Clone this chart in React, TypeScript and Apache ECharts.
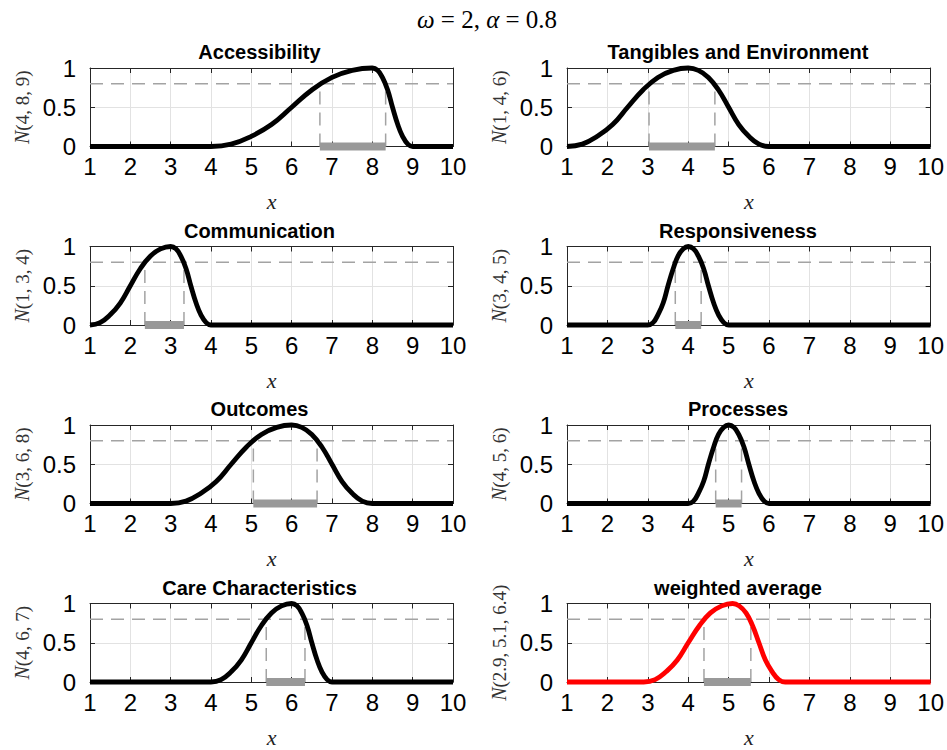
import React, { useEffect, useRef } from "react";
import * as echarts from "echarts";

// ---- data ----
const titles = [
  "Accessibility",
  "Tangibles and Environment",
  "Communication",
  "Responsiveness",
  "Outcomes",
  "Processes",
  "Care Characteristics",
  "weighted average",
];
const paramLabels = [
  "4, 8, 9",
  "1, 4, 6",
  "1, 3, 4",
  "3, 4, 5",
  "3, 6, 8",
  "4, 5, 6",
  "4, 6, 7",
  "2.9, 5.1, 6.4",
];

const accessibility = [
  [1, 0], [4, 0], [4.5, 0.03], [5, 0.13], [5.5, 0.28], [6, 0.5], [6.5, 0.72], [7, 0.88], [7.5, 0.97], [8, 1],
  [8.13, 0.97], [8.25, 0.88], [8.38, 0.72], [8.5, 0.5], [8.63, 0.28], [8.75, 0.13], [8.88, 0.03], [9, 0], [10, 0],
];
const tangibles = [
  [1, 0], [1.38, 0.03], [1.75, 0.13], [2.13, 0.28], [2.5, 0.5], [2.88, 0.72], [3.25, 0.88], [3.63, 0.97], [4, 1],
  [4.25, 0.97], [4.5, 0.88], [4.75, 0.72], [5, 0.5], [5.25, 0.28], [5.5, 0.13], [5.75, 0.03], [6, 0], [10, 0],
];
const communication = [
  [1, 0], [1.25, 0.03], [1.5, 0.13], [1.75, 0.28], [2, 0.5], [2.25, 0.72], [2.5, 0.88], [2.75, 0.97], [3, 1],
  [3.13, 0.97], [3.25, 0.88], [3.38, 0.72], [3.5, 0.5], [3.63, 0.28], [3.75, 0.13], [3.88, 0.03], [4, 0], [10, 0],
];
const responsiveness = [
  [1, 0], [3, 0], [3.13, 0.03], [3.25, 0.13], [3.38, 0.28], [3.5, 0.5], [3.63, 0.72], [3.75, 0.88], [3.88, 0.97], [4, 1],
  [4.13, 0.97], [4.25, 0.88], [4.38, 0.72], [4.5, 0.5], [4.63, 0.28], [4.75, 0.13], [4.88, 0.03], [5, 0], [10, 0],
];
const outcomes = [
  [1, 0], [3, 0], [3.38, 0.03], [3.75, 0.13], [4.13, 0.28], [4.5, 0.5], [4.88, 0.72], [5.25, 0.88], [5.63, 0.97], [6, 1],
  [6.25, 0.97], [6.5, 0.88], [6.75, 0.72], [7, 0.5], [7.25, 0.28], [7.5, 0.13], [7.75, 0.03], [8, 0], [10, 0],
];
const processes = [
  [1, 0], [4, 0], [4.13, 0.03], [4.25, 0.13], [4.38, 0.28], [4.5, 0.5], [4.63, 0.72], [4.75, 0.88], [4.88, 0.97], [5, 1],
  [5.13, 0.97], [5.25, 0.88], [5.38, 0.72], [5.5, 0.5], [5.63, 0.28], [5.75, 0.13], [5.88, 0.03], [6, 0], [10, 0],
];
const careCharacteristics = [
  [1, 0], [4, 0], [4.25, 0.03], [4.5, 0.13], [4.75, 0.28], [5, 0.5], [5.25, 0.72], [5.5, 0.88], [5.75, 0.97], [6, 1],
  [6.13, 0.97], [6.25, 0.88], [6.38, 0.72], [6.5, 0.5], [6.63, 0.28], [6.75, 0.13], [6.88, 0.03], [7, 0], [10, 0],
];
const weightedAverage = [
  [1, 0], [2.9, 0], [3.18, 0.03], [3.45, 0.13], [3.73, 0.28], [4, 0.5], [4.28, 0.72], [4.55, 0.88], [4.83, 0.97], [5.1, 1],
  [5.26, 0.97], [5.43, 0.88], [5.59, 0.72], [5.75, 0.5], [5.91, 0.28], [6.08, 0.13], [6.24, 0.03], [6.4, 0], [10, 0],
];

const curves = [
  accessibility, tangibles, communication, responsiveness,
  outcomes, processes, careCharacteristics, weightedAverage,
];
const alphaCuts = [
  [6.7, 8.33], [3.03, 4.66], [2.36, 3.33], [3.68, 4.32],
  [5.05, 6.63], [4.68, 5.32], [5.37, 6.33], [4.39, 5.55],
];
const curveColors = ["#000000", "#000000", "#000000", "#000000", "#000000", "#000000", "#000000", "#ff0000"];
const alphaLevel = 0.8;
const xRange = [1, 10];
const yRange = [0, 1];

// ---- layout ----
const colLeft = [90, 567];
const colWidth = [363, 366];
const rowTop = [68, 246.5, 425, 603.5];
const rowHeight = 78.5;

const SANS = "'Liberation Sans', Arial, Helvetica, sans-serif";
const SERIF = "'Liberation Serif', 'Times New Roman', serif";
const AX = "#262626";

export default function App() {
  const ref = useRef<HTMLDivElement>(null);
  useEffect(() => {
    if (!ref.current) return;
    const chart = echarts.init(ref.current, null, { renderer: "svg" });
    const grids: any[] = [];
    const xAxes: any[] = [];
    const yAxes: any[] = [];
    const series: any[] = [];
    const graphics: any[] = [];

    for (let i = 0; i < 8; i++) {
      const col = i % 2;
      const row = Math.floor(i / 2);
      grids.push({ left: colLeft[col], top: rowTop[row], width: colWidth[col], height: rowHeight, containLabel: false });
      const tick = { show: true, inside: true, length: 5, lineStyle: { color: AX, width: 1 } };
      const line = { show: true, onZero: false, lineStyle: { color: AX, width: 1 } };
      xAxes.push({
        gridIndex: i, type: "value", position: "bottom", min: xRange[0], max: xRange[1], interval: 1,
        axisLine: line, axisTick: tick,
        axisLabel: { fontSize: 24, color: "#000", fontFamily: SANS, margin: 8 },
        splitLine: { show: true, showMinLine: false, showMaxLine: false, lineStyle: { color: "#e2e2e2", width: 1 } },
        name: "x", nameLocation: "middle", nameGap: 44,
        nameTextStyle: { fontFamily: SERIF, fontStyle: "italic", fontSize: 22, color: "#222" },
      });
      xAxes.push({
        gridIndex: i, type: "value", position: "top", min: xRange[0], max: xRange[1], interval: 1,
        axisLine: line, axisTick: tick, axisLabel: { show: false }, splitLine: { show: false },
      });
      yAxes.push({
        gridIndex: i, type: "value", position: "left", min: yRange[0], max: yRange[1], interval: 0.5,
        axisLine: line, axisTick: tick,
        axisLabel: { fontSize: 24, color: "#000", fontFamily: SANS, margin: 14 },
        splitLine: { show: true, showMinLine: false, showMaxLine: false, lineStyle: { color: "#e2e2e2", width: 1 } },
        name: "{n|N}(" + paramLabels[i] + ")", nameLocation: "middle", nameGap: 58, nameRotate: 90,
        nameTextStyle: {
          fontFamily: SERIF, fontSize: 19, color: "#333",
          rich: { n: { fontFamily: SERIF, fontStyle: "italic", fontSize: 20, color: "#333" } },
        },
      });
      yAxes.push({
        gridIndex: i, type: "value", position: "right", min: yRange[0], max: yRange[1], interval: 0.5,
        axisLine: line, axisTick: tick, axisLabel: { show: false }, splitLine: { show: false },
      });

      const xi = 2 * i;
      const yi = 2 * i;
      const base = { type: "line", xAxisIndex: xi, yAxisIndex: yi, showSymbol: false, symbol: "none", clip: false, silent: true };
      const dash = { color: "#a3a3a3", width: 1.5, type: [13, 8] };
      series.push({ ...base, data: [[xRange[0], alphaLevel], [xRange[1], alphaLevel]], lineStyle: dash });
      series.push({ ...base, data: [[alphaCuts[i][0], 0], [alphaCuts[i][0], alphaLevel]], lineStyle: dash });
      series.push({ ...base, data: [[alphaCuts[i][1], 0], [alphaCuts[i][1], alphaLevel]], lineStyle: dash });
      series.push({ ...base, data: [[alphaCuts[i][0], 0], [alphaCuts[i][1], 0]], lineStyle: { color: "#999999", width: 8, cap: "butt" } });
      series.push({ ...base, data: curves[i], smooth: 0.45, lineStyle: { color: curveColors[i], width: 4.8, join: "round" } });

      graphics.push({
        type: "text",
        x: colLeft[col] + colWidth[col] / 2 - 12,
        y: rowTop[row] - 16,
        style: { text: titles[i], font: "bold 20px " + SANS, fill: "#000", textAlign: "center", textVerticalAlign: "middle" },
      });
    }

    graphics.push({
      type: "text",
      x: 487,
      y: 19,
      style: {
        text: "{i|ω} = 2, {i|α} = 0.8",
        fontFamily: SERIF, fontSize: 25, fill: "#000",
        textAlign: "center", textVerticalAlign: "middle",
        rich: { i: { fontFamily: SERIF, fontStyle: "italic", fontSize: 25, fill: "#000" } },
      },
    });

    chart.setOption({
      animation: false,
      backgroundColor: "#ffffff",
      grid: grids,
      xAxis: xAxes,
      yAxis: yAxes,
      series,
      graphic: graphics,
    });
    return () => chart.dispose();
  }, []);
  return <div ref={ref} style={{ position: "fixed", left: 0, top: 0, width: 947, height: 750 }} />;
}
